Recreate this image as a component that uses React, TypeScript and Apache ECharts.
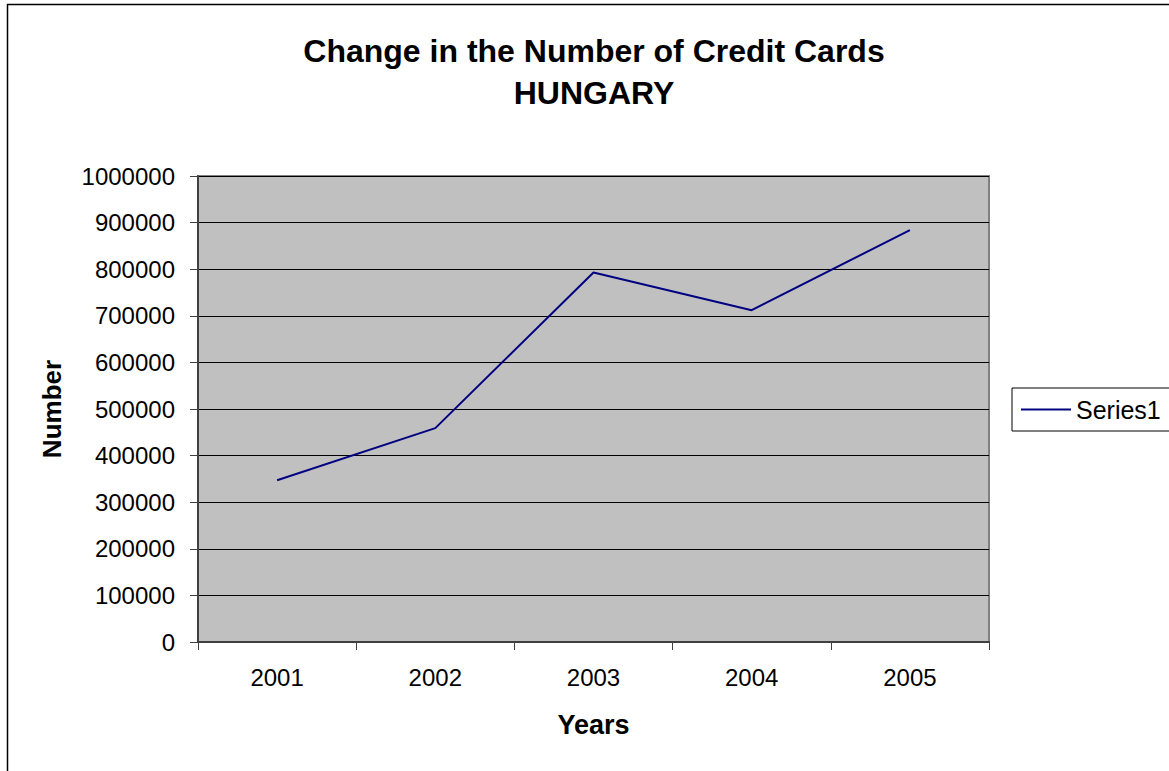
import React, { useEffect, useRef } from "react";
import * as echarts from "echarts";

const years = ["2001", "2002", "2003", "2004", "2005"];
const creditCards = [347000, 459000, 793000, 712000, 884000];
const titleLines = ["Change in the Number of Credit Cards", "HUNGARY"];
const seriesName = "Series1";
const xAxisName = "Years";
const yAxisName = "Number";

const FONT = "'Liberation Sans', Arial, sans-serif";

export default function App() {
  const ref = useRef<HTMLDivElement>(null);

  useEffect(() => {
    if (!ref.current) return;
    const chart = echarts.init(ref.current, undefined, { renderer: "svg" });
    chart.setOption({
      animation: false,
      backgroundColor: "#ffffff",
      title: {
        text: titleLines.join("\n"),
        left: 589,
        top: 25,
        textAlign: "center",
        textStyle: {
          fontFamily: FONT,
          fontSize: 32,
          fontWeight: "bold",
          color: "#000",
          lineHeight: 42,
        },
      },
      graphic: [
        {
          type: "rect",
          shape: { x: 7.5, y: 4.5, width: 1400, height: 1000 },
          style: { fill: "none", stroke: "#000", lineWidth: 1.5 },
          silent: true,
          z: -1,
        },
      ],
      legend: {
        orient: "vertical",
        left: 1012,
        top: 388,
        padding: [9, 30, 9, 9],
        borderColor: "#000",
        borderWidth: 1,
        itemWidth: 50,
        itemHeight: 2,
        icon: "rect",
        itemStyle: { color: "#000080", borderWidth: 0 },
        textStyle: { fontFamily: FONT, fontSize: 25, color: "#000", lineHeight: 24 },
        data: [seriesName],
      },
      grid: {
        show: true,
        left: 198,
        top: 176,
        width: 791,
        height: 466,
        backgroundColor: "#C0C0C0",
        borderColor: "#808080",
        borderWidth: 2,
        containLabel: false,
      },
      xAxis: {
        type: "category",
        data: years,
        boundaryGap: true,
        name: xAxisName,
        nameLocation: "middle",
        nameGap: 69,
        nameTextStyle: { fontFamily: FONT, fontSize: 27, fontWeight: "bold", color: "#000" },
        axisLine: { show: true, lineStyle: { color: "#404040", width: 2 } },
        axisTick: { show: true, length: 8, alignWithLabel: false, lineStyle: { color: "#404040", width: 1 } },
        axisLabel: { fontFamily: FONT, fontSize: 24, color: "#000", margin: 23 },
        splitLine: { show: false },
      },
      yAxis: {
        type: "value",
        min: 0,
        max: 1000000,
        interval: 100000,
        name: yAxisName,
        nameLocation: "middle",
        nameRotate: 90,
        nameGap: 133,
        nameTextStyle: { fontFamily: FONT, fontSize: 26, fontWeight: "bold", color: "#000" },
        axisLine: { show: true, lineStyle: { color: "#404040", width: 2 } },
        axisTick: { show: true, length: 8, lineStyle: { color: "#404040", width: 1 } },
        axisLabel: {
          fontFamily: FONT,
          fontSize: 24,
          color: "#000",
          margin: 23,
          formatter: (v: number) => String(v),
        },
        splitLine: { show: true, lineStyle: { color: "#000", width: 1 } },
      },
      series: [
        {
          name: seriesName,
          type: "line",
          data: creditCards,
          symbol: "none",
          showSymbol: false,
          lineStyle: { color: "#000080", width: 2 },
          itemStyle: { color: "#000080" },
        },
      ],
    });
    return () => chart.dispose();
  }, []);

  return (
    <div
      ref={ref}
      style={{ position: "absolute", left: 0, top: 0, width: 1169, height: 771 }}
    />
  );
}
